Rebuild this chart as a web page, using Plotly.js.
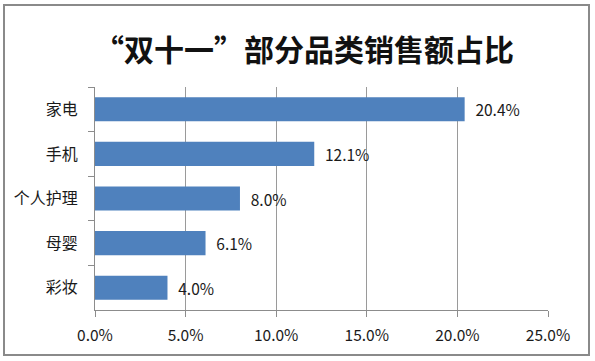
<!DOCTYPE html>
<html>
<head>
<meta charset="utf-8">
<script src="https://cdn.plot.ly/plotly-3.0.1.min.js"></script>
<style>html,body{margin:0;padding:0;background:#fff;}#chart{width:595px;height:361px;}</style>
</head>
<body>
<div id="chart"></div>
<script>
const titleText = "“双十一”部分品类销售额占比";
const categories = ["家电", "手机", "个人护理", "母婴", "彩妆"];
const shares = [0.204, 0.121, 0.080, 0.061, 0.040];
const xTickValues = [0, 0.05, 0.10, 0.15, 0.20, 0.25];

const font = "'Noto Sans CJK SC', 'Noto Sans', sans-serif";
const W = 595, H = 361;
const m = {l: 95, r: 47, t: 87, b: 51};
const pw = W - m.l - m.r, ph = H - m.t - m.b;
function px(x){ return (x - m.l) / pw; }
function py(y){ return (H - m.b - y) / ph; }

const trace = {
  type: 'bar',
  orientation: 'h',
  y: categories,
  x: shares,
  marker: {color: '#4F81BD', line: {width: 0}},
  text: shares.map(v => (v * 100).toFixed(1) + '%'),
  texttemplate: '\u2002%{text}',
  textposition: 'outside',
  cliponaxis: false,
  textfont: {family: font, size: 15.5, color: '#1a1a1a'},
  hoverinfo: 'none'
};

const layout = {
  width: W, height: H,
  margin: m,
  paper_bgcolor: '#ffffff',
  plot_bgcolor: '#ffffff',
  showlegend: false,
  bargap: 0.46,
  font: {family: font, color: '#1a1a1a'},
  title: {
    text: '<b>' + titleText + '</b>',
    font: {family: font, size: 30, color: '#111'},
    xref: 'container', yref: 'container',
    x: 304 / W, xanchor: 'center',
    y: 1 - 50 / H, yanchor: 'middle'
  },
  xaxis: {
    range: [0, 0.25],
    tickvals: xTickValues,
    tickformat: '.1%',
    showgrid: true, gridcolor: '#9a9a9a', gridwidth: 1,
    zeroline: false,
    showline: true, linecolor: '#8c8c8c', linewidth: 1,
    ticks: 'outside', ticklen: 6, tickcolor: '#8c8c8c',
    ticklabelstandoff: 5,
    tickfont: {family: font, size: 15.5, color: '#1a1a1a'},
    fixedrange: true
  },
  yaxis: {
    type: 'category',
    autorange: 'reversed',
    showgrid: false,
    zeroline: false,
    showline: true, linecolor: '#8c8c8c', linewidth: 1,
    ticks: 'outside', ticklen: 6, tickcolor: '#8c8c8c',
    tickson: 'boundaries',
    ticklabelstandoff: 13,
    tickfont: {family: font, size: 16, color: '#1a1a1a'},
    fixedrange: true
  },
  shapes: [{
    type: 'rect', xref: 'paper', yref: 'paper',
    x0: px(4), x1: px(589), y0: py(355), y1: py(5),
    line: {color: '#8a8a8a', width: 2}, fillcolor: 'rgba(0,0,0,0)',
    layer: 'below'
  }]
};

Plotly.newPlot('chart', [trace], layout, {displayModeBar: false, staticPlot: true});
</script>
</body>
</html>
